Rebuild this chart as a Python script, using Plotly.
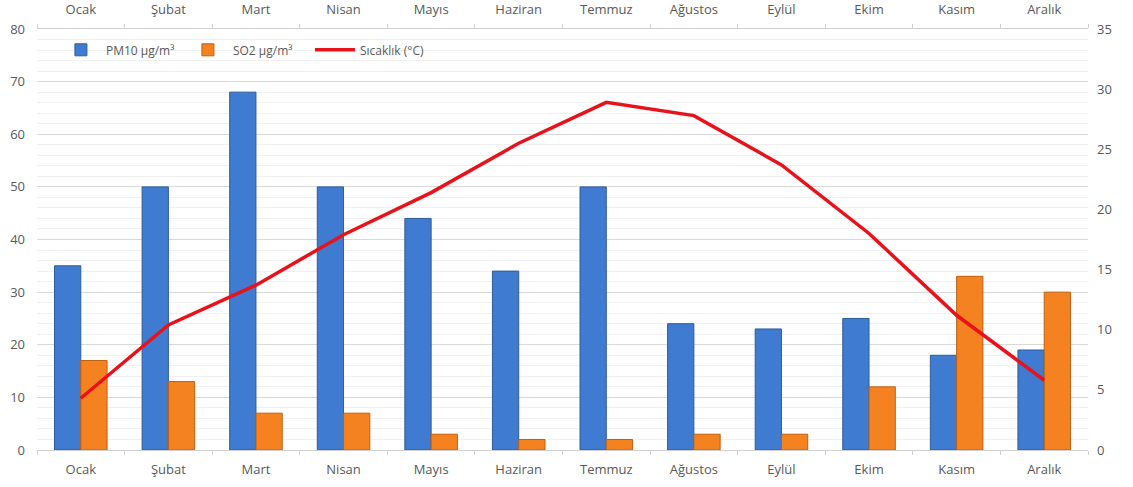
import plotly.graph_objects as go

months = ["Ocak", "Şubat", "Mart", "Nisan", "Mayıs", "Haziran", "Temmuz",
          "Ağustos", "Eylül", "Ekim", "Kasım", "Aralık"]
pm10 = [35, 50, 68, 50, 44, 34, 50, 24, 23, 25, 18, 19]
so2 = [17, 13, 7, 7, 3, 2, 2, 3, 3, 12, 33, 30]
temp = [4.3, 10.4, 13.7, 17.9, 21.4, 25.5, 28.9, 27.8, 23.7, 18.0, 11.2, 5.8]

left_ticks = list(range(0, 81, 10))
right_ticks = list(range(0, 36, 5))

font_c = "#595959"
fig = go.Figure()
fig.add_trace(go.Bar(x=months, y=pm10, name="PM10 µg/m³",
                     marker=dict(color="#3f7bd0", line=dict(color="#2c5c9c", width=1))))
fig.add_trace(go.Bar(x=months, y=so2, name="SO2 µg/m³",
                     marker=dict(color="#f58220", line=dict(color="#c0600e", width=1))))
fig.add_trace(go.Scatter(x=months, y=temp, name="Sıcaklık (°C)", mode="lines",
                         line=dict(color="#e8121b", width=3.5), yaxis="y2"))
fig.add_trace(go.Scatter(x=months, y=[None] * len(months), xaxis="x2",
                         showlegend=False, hoverinfo="skip"))

cat_range = [-0.5, len(months) - 0.5]
axis_font = dict(family="Open Sans, sans-serif", size=13, color=font_c)
fig.update_layout(
    width=1133, height=487,
    margin=dict(l=37, r=45, t=29, b=37, autoexpand=False),
    plot_bgcolor="white", paper_bgcolor="white",
    barmode="group", bargap=0.4, bargroupgap=0.0,
    font=axis_font,
    legend=dict(orientation="h", x=0.018, y=0.985, xanchor="left", yanchor="top",
                bgcolor="rgba(255,255,255,0)", font=dict(size=12, color=font_c),
                itemwidth=40, entrywidth=72, entrywidthmode="pixels"),
    xaxis=dict(type="category", categoryorder="array", categoryarray=months,
               range=cat_range, autorange=False,
               showline=True, linecolor="#d0d0d0", ticks="outside", tickson="boundaries",
               ticklen=4, tickcolor="#d0d0d0", showgrid=False, tickfont=axis_font,
               automargin=False, ticklabelstandoff=7),
    xaxis2=dict(type="category", overlaying="x", side="top", matches="x",
                categoryorder="array", categoryarray=months,
                showline=True, linecolor="#d0d0d0", ticks="outside", tickson="boundaries",
                ticklen=4, tickcolor="#d0d0d0", showgrid=False, tickfont=axis_font,
                automargin=False, ticklabelstandoff=9),
    yaxis=dict(range=[0, 80], tickvals=left_ticks, showgrid=True, gridcolor="#d9d9d9",
               zeroline=False, showline=False, tickfont=axis_font, automargin=False,
               ticklabelstandoff=11,
               minor=dict(dtick=2, showgrid=True, gridcolor="#f0f0f0")),
    yaxis2=dict(range=[0, 35], tickvals=right_ticks, overlaying="y", side="right",
                showgrid=False, zeroline=False, showline=False, tickfont=axis_font,
                automargin=False, ticklabelstandoff=8),
)
fig.write_html("out.html", config={"displayModeBar": False},
               post_script="document.body.style.margin='0px';")
